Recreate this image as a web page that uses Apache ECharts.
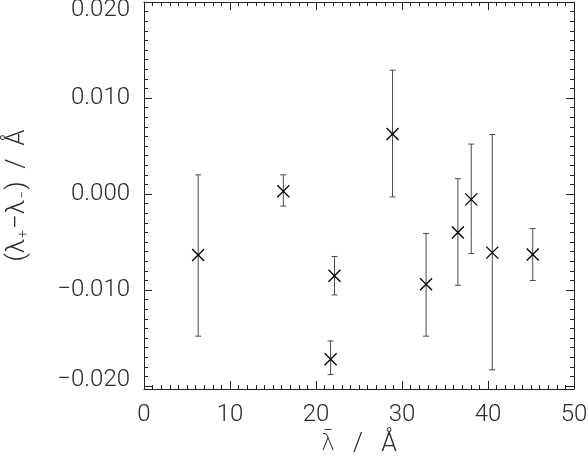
<!DOCTYPE html>
<html><head><meta charset="utf-8">
<script src="https://cdn.jsdelivr.net/npm/echarts@6/dist/echarts.min.js"></script>
<style>html,body{margin:0;padding:0;background:#fff}#c{width:588px;height:461px}</style>
</head><body><div id="c"></div>
<script>
// mean wavelength (Å)
const wavelengths = [6.3, 16.2, 21.7, 22.15, 28.9, 32.8, 36.5, 38.05, 40.5, 45.2];
// (λ+ − λ−) (Å)
const shifts = [-0.00635, 0.0003, -0.0172, -0.0085, 0.00625, -0.0094, -0.0040, -0.00055, -0.0061, -0.0063];
const upperErr = [0.0020, 0.0020, -0.0153, -0.0065, 0.0129, -0.0041, 0.0016, 0.0052, 0.0062, -0.0036];
const lowerErr = [-0.0148, -0.00125, -0.0188, -0.0105, -0.0003, -0.0148, -0.0095, -0.0062, -0.0183, -0.0090];
const xTickValues = [0, 10, 20, 30, 40, 50];
const yTickValues = [-0.020, -0.010, 0.000, 0.010, 0.020];

const FONT = 'Roboto, "Liberation Sans", sans-serif';
const TXT = '#2a2a2a';
const AX = '#222';
const LBL = { color: TXT, fontSize: 24, fontFamily: FONT, fontWeight: 300 };

function yFmt(v) {
  const idx = yTickValues.findIndex(t => Math.abs(t - v) < 1e-9);
  if (idx < 0) return '';
  const hit = yTickValues[idx];
  const s = Math.abs(hit) < 1e-12 ? '0.000' : (hit < 0 ? '\u2212' : '') + Math.abs(hit).toFixed(3);
  if (idx === yTickValues.length - 1) return '{top|' + s + '}';
  if (idx === 0) return '{bot|' + s + '}';
  return s;
}
function xFmt(v) {
  return xTickValues.indexOf(v) >= 0 ? String(v) : '';
}

const lineCommon = { show: true, onZero: false, lineStyle: { color: AX, width: 1 } };
const tickCommon = { show: true, inside: true, length: 8, lineStyle: { color: AX, width: 1 } };
const minorCommon = { show: true, splitNumber: 10, length: 4, lineStyle: { color: AX, width: 1 } };

const chart = echarts.init(document.getElementById('c'), null, { renderer: 'canvas' });
chart.setOption({
  animation: false,
  backgroundColor: '#fff',
  grid: { left: 144, top: 2, right: 14, bottom: 72, containLabel: false, outerBoundsMode: 'none' },
  xAxis: [
    {
      type: 'value', min: 0, max: 50, interval: 10, position: 'bottom',
      axisLine: lineCommon, axisTick: tickCommon, minorTick: minorCommon,
      splitLine: { show: false },
      axisLabel: Object.assign({ margin: 14, formatter: xFmt }, LBL),
      name: '{lam|\u03BB\u0304}   /   \u00C5', nameLocation: 'middle', nameGap: 43,
      nameTextStyle: { color: TXT, fontSize: 25, fontFamily: FONT, fontWeight: 300,
        rich: { lam: { fontFamily: '"DejaVu Sans"', fontSize: 23, color: TXT, fontWeight: 300 } } }
    },
    {
      type: 'value', min: 0, max: 50, interval: 10, position: 'top',
      axisLine: lineCommon, axisTick: tickCommon, minorTick: minorCommon,
      splitLine: { show: false }, axisLabel: { show: false }
    }
  ],
  yAxis: [
    {
      type: 'value', min: -0.0203, max: 0.020, splitNumber: 4, position: 'left',
      axisLine: lineCommon, axisTick: tickCommon, minorTick: minorCommon,
      splitLine: { show: false },
      axisLabel: Object.assign({ margin: 14, formatter: yFmt, showMinLabel: false,
        rich: {
          top: Object.assign({ padding: [16, 0, 0, 0] }, LBL),
          bot: Object.assign({ padding: [0, 0, 12, 0] }, LBL)
        } }, LBL),
      name: '(\u03BB{sub|+}\u2212\u03BB{sub|\u2212})  /  \u00C5', nameLocation: 'middle', nameGap: 114, nameRotate: 90,
      nameTextStyle: { color: TXT, fontSize: 26, fontFamily: FONT, fontWeight: 300,
        rich: { sub: { fontSize: 14, color: TXT, fontFamily: FONT, verticalAlign: 'bottom', padding: [10, 1, 0, 1] } } }
    },
    {
      type: 'value', min: -0.0203, max: 0.020, splitNumber: 4, position: 'right',
      axisLine: lineCommon, axisTick: tickCommon, minorTick: minorCommon,
      splitLine: { show: false }, axisLabel: { show: false }
    }
  ],
  series: [{
    type: 'custom',
    xAxisIndex: 0, yAxisIndex: 0,
    data: wavelengths.map((x, i) => [x, shifts[i], upperErr[i], lowerErr[i]]),
    renderItem: function (params, api) {
      const c = api.coord([api.value(0), api.value(1)]);
      const t = api.coord([api.value(0), api.value(2)]);
      const b = api.coord([api.value(0), api.value(3)]);
      const cap = 3, m = 6;
      const eb = { stroke: '#4a4a4a', lineWidth: 1 };
      const mk = { stroke: '#000', lineWidth: 1.3 };
      return {
        type: 'group',
        children: [
          { type: 'line', shape: { x1: t[0], y1: t[1], x2: b[0], y2: b[1] }, style: eb },
          { type: 'line', shape: { x1: t[0] - cap, y1: t[1], x2: t[0] + cap, y2: t[1] }, style: eb },
          { type: 'line', shape: { x1: b[0] - cap, y1: b[1], x2: b[0] + cap, y2: b[1] }, style: eb },
          { type: 'line', shape: { x1: c[0] - m, y1: c[1] - m, x2: c[0] + m, y2: c[1] + m }, style: mk },
          { type: 'line', shape: { x1: c[0] - m, y1: c[1] + m, x2: c[0] + m, y2: c[1] - m }, style: mk }
        ]
      };
    }
  }]
});
</script>
</body></html>
